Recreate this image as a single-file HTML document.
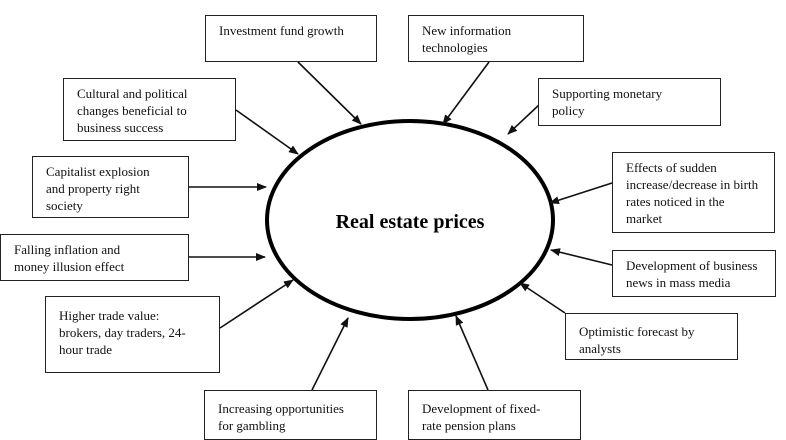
<!DOCTYPE html>
<html><head><style>
body{margin:0;background:#fff;width:786px;height:439px;overflow:hidden;position:relative;font-family:"Liberation Serif",serif;}
.b{position:absolute;border:1.5px solid #222;box-sizing:border-box;font-size:13px;line-height:17px;color:#111;padding:6px 0 0 13px;background:#fff}
svg{position:absolute;left:0;top:0}
</style></head><body>
<svg width="786" height="439">
<defs><marker id="a" markerWidth="10" markerHeight="8" refX="9" refY="4" orient="auto" markerUnits="userSpaceOnUse"><path d="M0,0 L10,4 L0,8 z" fill="#111"/></marker></defs>
<ellipse cx="410" cy="220" rx="143" ry="99" fill="none" stroke="#000" stroke-width="4"/>
<text x="410" y="228" text-anchor="middle" font-family="Liberation Serif" font-weight="bold" font-size="20">Real estate prices</text>
<g stroke="#111" stroke-width="1.6" marker-end="url(#a)">
<line x1="298" y1="62" x2="361" y2="124"/>
<line x1="489" y1="62" x2="443" y2="124"/>
<line x1="236" y1="110" x2="298" y2="154"/>
<line x1="540" y1="104" x2="508" y2="134"/>
<line x1="189" y1="187" x2="266" y2="187"/>
<line x1="612" y1="183" x2="550" y2="203"/>
<line x1="189" y1="257" x2="265" y2="257"/>
<line x1="612" y1="265" x2="551" y2="250"/>
<line x1="565" y1="313" x2="520" y2="283"/>
<line x1="220" y1="328" x2="293" y2="280"/>
<line x1="312" y1="390" x2="348" y2="318"/>
<line x1="488" y1="390" x2="456" y2="316"/>
</g>
</svg>
<div class="b" style="left:205px;top:15px;width:172px;height:47px">Investment fund growth</div>
<div class="b" style="left:408px;top:15px;width:176px;height:47px">New information<br>technologies</div>
<div class="b" style="left:63px;top:78px;width:173px;height:63px">Cultural and political<br>changes beneficial to<br>business success</div>
<div class="b" style="left:538px;top:78px;width:183px;height:48px">Supporting monetary<br>policy</div>
<div class="b" style="left:32px;top:156px;width:157px;height:62px">Capitalist explosion<br>and property right<br>society</div>
<div class="b" style="left:612px;top:152px;width:163px;height:81px">Effects of sudden<br>increase/decrease in birth<br>rates noticed in the<br>market</div>
<div class="b" style="left:0px;top:234px;width:189px;height:47px">Falling inflation and<br>money illusion effect</div>
<div class="b" style="left:612px;top:250px;width:164px;height:47px">Development of business<br>news in mass media</div>
<div class="b" style="left:45px;top:296px;width:175px;height:77px;padding-top:10px">Higher trade value:<br>brokers, day traders, 24-<br>hour trade</div>
<div class="b" style="left:565px;top:313px;width:173px;height:47px;padding-top:9px">Optimistic forecast by<br>analysts</div>
<div class="b" style="left:204px;top:390px;width:173px;height:50px;padding-top:9px">Increasing opportunities<br>for gambling</div>
<div class="b" style="left:408px;top:390px;width:173px;height:50px;padding-top:9px">Development of fixed-<br>rate pension plans</div>
</body></html>
